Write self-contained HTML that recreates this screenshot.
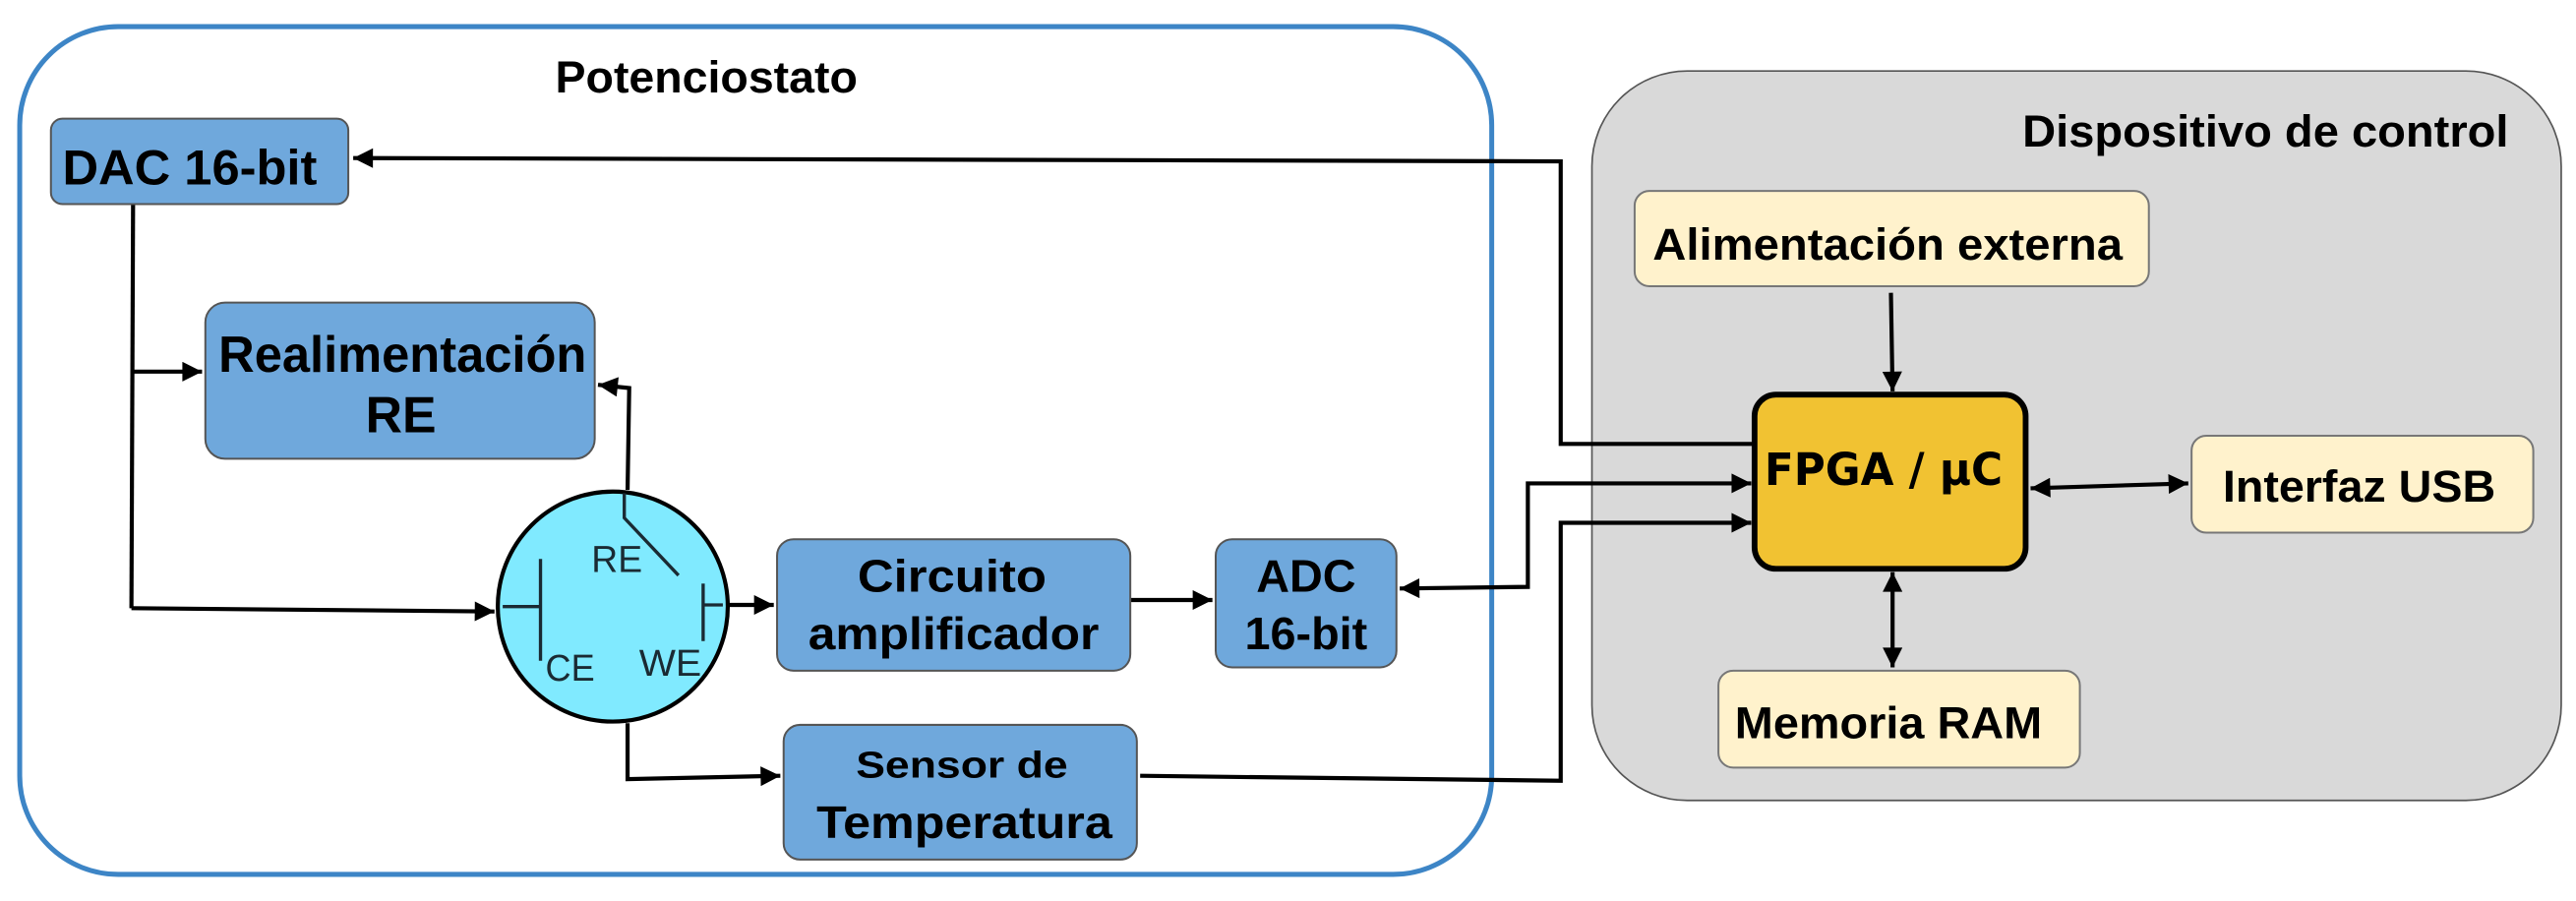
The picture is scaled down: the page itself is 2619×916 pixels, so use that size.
<!DOCTYPE html>
<html><head><meta charset="utf-8"><style>
html,body{margin:0;padding:0;background:#fff;}
svg{display:block;}
text{font-family:"Liberation Sans",Arial,sans-serif;font-weight:bold;fill:#000;}
</style></head><body>
<svg width="2619" height="916" viewBox="0 0 1568 548" xmlns="http://www.w3.org/2000/svg">
<defs>
<marker id="b" viewBox="0 0 10 10" refX="10" refY="5" markerWidth="14" markerHeight="12" orient="auto-start-reverse" markerUnits="userSpaceOnUse">
<path d="M0,0 L10,5 L0,10 z" fill="#000"/></marker>
</defs>
<rect x="0" y="0" width="1568" height="548" fill="#fff"/>
<rect x="969" y="43" width="590" height="444" rx="58" fill="#d9d9d9" stroke="#555" stroke-width="1"/>
<text x="1231" y="89" font-size="27" textLength="296" lengthAdjust="spacingAndGlyphs">Dispositivo de control</text>
<rect x="12" y="16" width="896" height="516" rx="60" fill="none" stroke="#3d85c6" stroke-width="3"/>
<text x="338" y="56" font-size="27" textLength="184" lengthAdjust="spacingAndGlyphs">Potenciostato</text>

<g stroke="#000" stroke-width="2.5" fill="none">
<polyline points="1068,270 950,270 950,98 215,96" marker-end="url(#b)"/>
<polyline points="852,358 930,357 930,294 1066,294" marker-start="url(#b)" marker-end="url(#b)"/>
<polyline points="694,472 950,475 950,318 1066,318" marker-end="url(#b)"/>
<line x1="1151" y1="178" x2="1152" y2="238" marker-end="url(#b)"/>
<line x1="1236" y1="297" x2="1332" y2="294" marker-start="url(#b)" marker-end="url(#b)"/>
<line x1="1152" y1="348" x2="1152" y2="406" marker-start="url(#b)" marker-end="url(#b)"/>
<polyline points="81,124 80,370"/>
<polyline points="80,226 123,226" marker-end="url(#b)"/>
<polyline points="80,370 301,372" marker-end="url(#b)"/>
<polyline points="382,298 383,236 364,234" marker-end="url(#b)"/>
<polyline points="442,368 471,368" marker-end="url(#b)"/>
<polyline points="688,365 738,365" marker-end="url(#b)"/>
<polyline points="382,440 382,474 475,472" marker-end="url(#b)"/>
</g>

<g fill="#6fa8dc" stroke="#555" stroke-width="1.2">
<rect x="31" y="72" width="181" height="52" rx="7"/>
<rect x="125" y="184" width="237" height="95" rx="12"/>
<rect x="473" y="328" width="215" height="80" rx="10"/>
<rect x="740" y="328" width="110" height="78" rx="10"/>
<rect x="477" y="441" width="215" height="82" rx="10"/>
</g>
<text x="38" y="112" font-size="30" textLength="155" lengthAdjust="spacingAndGlyphs">DAC 16-bit</text>
<text x="133" y="226" font-size="31" textLength="224" lengthAdjust="spacingAndGlyphs">Realimentación</text>
<text x="244" y="263" font-size="31" text-anchor="middle">RE</text>
<text x="522" y="360" font-size="28" textLength="115" lengthAdjust="spacingAndGlyphs">Circuito</text>
<text x="492" y="395" font-size="28" textLength="177" lengthAdjust="spacingAndGlyphs">amplificador</text>
<text x="795" y="360" font-size="28" text-anchor="middle">ADC</text>
<text x="795" y="395" font-size="28" text-anchor="middle">16-bit</text>
<text x="521" y="473" font-size="23" textLength="129" lengthAdjust="spacingAndGlyphs">Sensor de</text>
<text x="497" y="510" font-size="28" textLength="180" lengthAdjust="spacingAndGlyphs">Temperatura</text>

<circle cx="373" cy="369" r="70" fill="#80eaff" stroke="#000" stroke-width="2.5"/>
<g stroke="#1a2a33" stroke-width="2" fill="none">
<line x1="329" y1="340" x2="329" y2="402"/>
<line x1="306" y1="369" x2="329" y2="369"/>
<line x1="428" y1="355" x2="428" y2="390"/>
<line x1="428" y1="368" x2="440" y2="368"/>
<polyline points="380,300 380,315 413,350"/>
</g>
<text x="360" y="348" font-size="23" style="font-weight:normal;fill:#1a2a33" textLength="31" lengthAdjust="spacingAndGlyphs">RE</text>
<text x="332" y="414" font-size="23" style="font-weight:normal;fill:#1a2a33" textLength="30" lengthAdjust="spacingAndGlyphs">CE</text>
<text x="389" y="411" font-size="23" style="font-weight:normal;fill:#1a2a33" textLength="38" lengthAdjust="spacingAndGlyphs">WE</text>

<g fill="#fff2cc" stroke="#777" stroke-width="1.2">
<rect x="995" y="116" width="313" height="58" rx="9"/>
<rect x="1334" y="265" width="208" height="59" rx="9"/>
<rect x="1046" y="408" width="220" height="59" rx="9"/>
</g>
<text x="1006" y="158" font-size="27" textLength="286" lengthAdjust="spacingAndGlyphs">Alimentación externa</text>
<text x="1353" y="305" font-size="27" textLength="166" lengthAdjust="spacingAndGlyphs">Interfaz USB</text>
<text x="1056" y="449" font-size="27" textLength="187" lengthAdjust="spacingAndGlyphs">Memoria RAM</text>

<rect x="1068" y="240" width="165" height="106" rx="13" fill="#f1c232" stroke="#000" stroke-width="3.5"/>
<text x="1074" y="295" font-size="27" style="font-family:'DejaVu Sans','Liberation Sans',sans-serif" textLength="145" lengthAdjust="spacingAndGlyphs">FPGA / µC</text>
</svg>
</body></html>
